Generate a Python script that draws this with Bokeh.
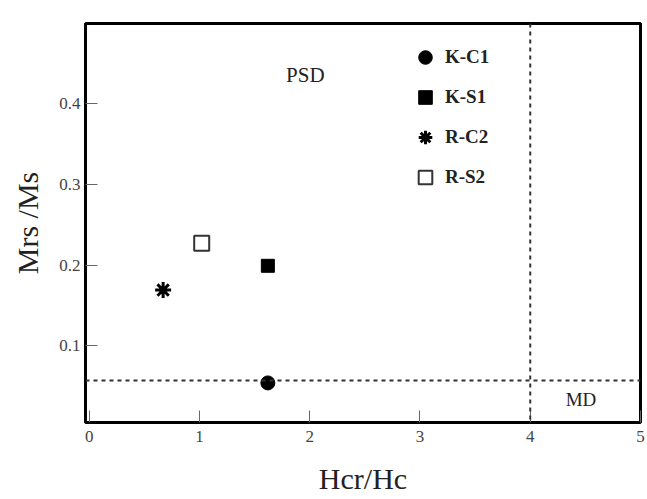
from bokeh.plotting import figure
from bokeh.models import Span, Legend, LegendItem, FixedTicker, Label, LinearAxis
from bokeh.embed import file_html
from bokeh.resources import INLINE

# data
samples = ["K-C1", "K-S1", "R-C2", "R-S2"]
hcr_hc = [1.62, 1.62, 0.67, 1.02]
mrs_ms = [0.054, 0.199, 0.169, 0.227]
x_ticks = [0, 1, 2, 3, 4, 5]
y_ticks = [0.1, 0.2, 0.3, 0.4, 0.5]
md_hcr_hc = 4.0
md_mrs_ms = 0.057

FONT = "Liberation Serif"
X0, X1 = -0.034, 5.0
Y0, Y1 = 0.005, 0.499

p = figure(width=647, height=497, output_backend="svg", toolbar_location=None,
           x_range=(X0, X1), y_range=(Y0, Y1),
           x_axis_type=None, y_axis_type=None,
           min_border_left=85, min_border_right=7, min_border_top=23, min_border_bottom=74)

common = dict(axis_line_color=None, major_tick_in=12, major_tick_out=0,
              minor_tick_line_color=None, major_tick_line_color="#666666",
              major_label_text_font=FONT, major_label_text_font_size="17px",
              major_label_text_color="#444444",
              axis_label_text_font=FONT, axis_label_text_font_style="normal",
              axis_label_text_font_size="30px", axis_label_text_color="#222222")
xax = LinearAxis(ticker=FixedTicker(ticks=x_ticks), axis_label="Hcr/Hc",
                 major_label_standoff=8, axis_label_standoff=17, **common)
yax = LinearAxis(ticker=FixedTicker(ticks=y_ticks), axis_label="Mrs /Ms",
                 major_label_standoff=5, axis_label_standoff=12, **common)
p.add_layout(xax, "below")
p.add_layout(yax, "left")

p.outline_line_color = "black"
p.outline_line_width = 3

p.add_layout(Span(location=md_mrs_ms, dimension="width", line_color="#333333",
                  line_width=2, line_dash="4 4"))
p.add_layout(Span(location=md_hcr_hc, dimension="height", line_color="#333333",
                  line_width=2, line_dash="4 4"))

r1 = p.scatter([hcr_hc[0]], [mrs_ms[0]], marker="circle", size=14, color="black")
r2 = p.scatter([hcr_hc[1]], [mrs_ms[1]], marker="square", size=13, color="black")
r3 = p.scatter([hcr_hc[2]], [mrs_ms[2]], marker="asterisk", size=16, line_color="black", line_width=3)
r4 = p.scatter([hcr_hc[3]], [mrs_ms[3]], marker="square", size=15, fill_color="white",
               line_color="#333333", line_width=2)

legend = Legend(items=[LegendItem(label=s, renderers=[r]) for s, r in zip(samples, [r1, r2, r3, r4])],
                location=(323, 228), orientation="vertical",
                glyph_width=34, glyph_height=34, label_height=34, spacing=6,
                label_standoff=3, padding=0, margin=0,
                border_line_color=None, background_fill_alpha=0,
                label_text_font=FONT, label_text_font_style="bold",
                label_text_font_size="19px", label_text_color="#222222")
p.add_layout(legend)

p.add_layout(Label(x=1.96, y=0.435, text="PSD", text_font=FONT, text_font_size="21px",
                   text_align="center", text_baseline="middle", text_color="#222222"))
p.add_layout(Label(x=4.46, y=0.033, text="MD", text_font=FONT, text_font_size="19px",
                   text_align="center", text_baseline="middle", text_color="#222222"))

open("out.html", "w").write(file_html(p, INLINE))
